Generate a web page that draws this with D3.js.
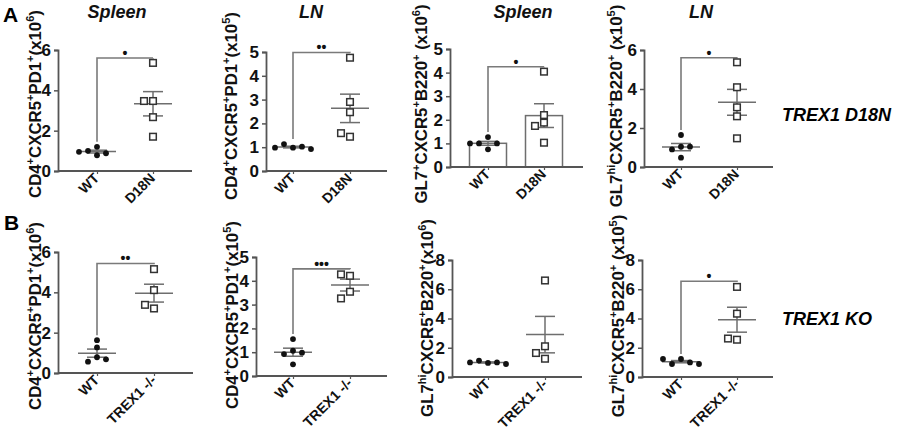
<!DOCTYPE html>
<html>
<head>
<meta charset="utf-8">
<script src="https://cdn.jsdelivr.net/npm/d3@7"></script>
<style>
  body { margin: 0; background: #fff; }
  text { font-family: "Liberation Sans", Arial, sans-serif; }
</style>
</head>
<body>
<div id="chart"></div>
<script>
// categories
const groupsD18N = ['WT', 'D18N']
const groupsKO = ['WT', 'TREX1 -/-']

// row A: TREX1 D18N
const aSpleenTfhWT = [1.2, 0.78, 1.0, 0.88, 0.95]
const aSpleenTfhMut = [5.36, 3.47, 3.47, 2.67, 1.7]
const aLnTfhWT = [0.98, 1.13, 1.02, 0.98, 0.92]
const aLnTfhMut = [4.76, 2.9, 2.47, 1.44, 1.59]
const aSpleenGcWT = [1.27, 1.0, 1.0, 1.0, 0.75]
const aSpleenGcMut = [4.04, 2.2, 1.88, 1.74, 1.03]
const aLnGcWT = [1.64, 1.04, 0.9, 1.04, 0.48]
const aLnGcMut = [5.37, 4.09, 3.06, 2.6, 1.47]

// row B: TREX1 KO
const bSpleenTfhWT = [1.63, 1.27, 0.78, 0.56, 0.68]
const bSpleenTfhKO = [5.15, 4.11, 3.2, 3.38]
const bLnTfhWT = [1.55, 1.06, 0.92, 0.98, 0.49]
const bLnTfhKO = [4.21, 4.27, 3.54, 3.26]
const bSpleenGcWT = [0.96, 1.12, 1.0, 1.0, 0.89]
const bSpleenGcKO = [6.6, 2.1, 1.64, 1.25]
const bLnGcWT = [1.23, 0.89, 1.0, 1.23, 0.89]
const bLnGcKO = [6.16, 4.33, 2.55, 2.63]

// significance: stars and bracket height (y units)
const stars = ['*', '**', '*', '*', '**', '***', '', '*']
const bracketTops = [5.6, 4.98, 4.25, 5.6, 5.43, 4.5, null, 6.55]

// y tick labels per panel
const ticks6 = [0, 2, 4, 6]
const ticks5 = [0, 1, 2, 3, 4, 5]
const ticks8 = [0, 2, 4, 6, 8]

// axis titles as [text, superscript] pieces
const tfhLabel6 = [['CD4', '+'], ['CXCR5', '+'], ['PD1', '+'], ['(x10', '6'], [')', '']]
const tfhLabel5 = [['CD4', '+'], ['CXCR5', '+'], ['PD1', '+'], ['(x10', '5'], [')', '']]
const gcLabelA3 = [['GL7', '+'], ['CXCR5', '+'], ['B220', '+'], [' (x10', '6'], [')', '']]
const gcHiLabel5 = [['GL7', 'hi'], ['CXCR5', '+'], ['B220', '+'], [' (x10', '5'], [')', '']]
const gcHiLabel6 = [['GL7', 'hi'], ['CXCR5', '+'], ['B220', '+'], ['(x10', '6'], [')', '']]

const panels = [
  {cats: groupsD18N, wt: aSpleenTfhWT, mut: aSpleenTfhMut, ticks: ticks6, label: tfhLabel6, title: 'Spleen',
   x0: 58, x1: 192, y0: 171, y1: 50, c0: 97, c1: 153, lx: 35, ly: 104, tx: 117},
  {cats: groupsD18N, wt: aLnTfhWT, mut: aLnTfhMut, ticks: ticks5, label: tfhLabel5, title: 'LN',
   x0: 266, x1: 387, y0: 171, y1: 52, c0: 293, c1: 350, lx: 231, ly: 106, tx: 311},
  {cats: groupsD18N, wt: aSpleenGcWT, mut: aSpleenGcMut, ticks: ticks5, label: gcLabelA3, title: 'Spleen', bar: true,
   x0: 450, x1: 583, y0: 167, y1: 49, c0: 488, c1: 544, lx: 421, ly: 104, tx: 523},
  {cats: groupsD18N, wt: aLnGcWT, mut: aLnGcMut, ticks: ticks6, label: gcHiLabel5, title: 'LN',
   x0: 644, x1: 773, y0: 167, y1: 50, c0: 681, c1: 737, lx: 616, ly: 106, tx: 701},
  {cats: groupsKO, wt: bSpleenTfhWT, mut: bSpleenTfhKO, ticks: ticks6, label: tfhLabel6,
   x0: 58, x1: 193, y0: 373, y1: 252, c0: 97, c1: 154, lx: 35, ly: 316},
  {cats: groupsKO, wt: bLnTfhWT, mut: bLnTfhKO, ticks: ticks5, label: tfhLabel5,
   x0: 256, x1: 387, y0: 376, y1: 257, c0: 293, c1: 350, lx: 232, ly: 315},
  {cats: groupsKO, wt: bSpleenGcWT, mut: bSpleenGcKO, ticks: ticks8, label: gcHiLabel6,
   x0: 452, x1: 582, y0: 377, y1: 260, c0: 488, c1: 545, lx: 427, ly: 318},
  {cats: groupsKO, wt: bLnGcWT, mut: bLnGcKO, ticks: ticks8, label: gcHiLabel5,
   x0: 642, x1: 773, y0: 377, y1: 260, c0: 681, c1: 737, lx: 618, ly: 316},
]

const lineCol = '#6e6e6e'
const axisCol = '#555'

const svg = d3.select('#chart').append('svg')
  .attr('width', 900).attr('height', 428)

// text with superscripts
const addSupText = (sel, parts, size) => {
  const t = sel.append('text').attr('font-size', size).attr('font-weight', 'bold')
  const rise = size * 0.42
  let up = false
  parts.forEach(([base, sup]) => {
    t.append('tspan').attr('dy', up ? rise : 0).text(base)
    up = false
    if (sup) {
      t.append('tspan').attr('dy', -rise).attr('font-size', size * 0.66).text(sup)
      up = true
    }
  })
  return t
}

// spread points sideways so they don't overlap
const dodge = (vals, y, cx) => {
  const placed = []
  const offs = [0, -9, 9, -18, 18, -27, 27]
  vals.forEach((v) => {
    const py = y(v)
    const dx = offs.find((o) => placed.every((p) => Math.hypot(p.x - (cx + o), p.y - py) >= 7))
    placed.push({x: cx + (dx === undefined ? 0 : dx), y: py, v: v})
  })
  return placed
}

panels.forEach((p, i) => {
  const g = svg.append('g')
  const y = d3.scaleLinear().domain([0, d3.max(p.ticks)]).range([p.y0, p.y1])
  const x = d3.scalePoint().domain(p.cats).range([p.c0, p.c1])
  const series = [p.wt, p.mut]

  // bars (mean) for the bar panel
  if (p.bar) {
    g.selectAll('rect.bar').data(series).enter().append('rect')
      .attr('x', (d, k) => x(p.cats[k]) - 18.5)
      .attr('width', 37)
      .attr('y', (d) => y(d3.mean(d)))
      .attr('height', (d) => p.y0 - y(d3.mean(d)))
      .attr('fill', '#fff').attr('stroke', lineCol).attr('stroke-width', 1.5)
  }

  // y axis
  const yAxis = d3.axisLeft(y).tickValues(p.ticks).tickSize(4).tickPadding(3).tickFormat(d3.format('d'))
  const ya = g.append('g').attr('transform', `translate(${p.x0},0)`).call(yAxis)
  ya.select('.domain').attr('stroke', axisCol).attr('stroke-width', 1.8)
  ya.selectAll('.tick line').attr('stroke', axisCol).attr('stroke-width', 1.5)
  ya.selectAll('.tick text')
    .style('font-size', '17px').style('font-weight', 'bold')
    .style('font-family', '"Liberation Sans", Arial, sans-serif')
    .attr('fill', '#111')

  // x axis
  const xAxis = d3.axisBottom(x).tickSize(3).tickSizeOuter(0).tickFormat('')
  const xa = g.append('g').attr('transform', `translate(0,${p.y0})`).call(xAxis)
  xa.select('.domain').attr('d', `M${p.x0},0H${p.x1}`).attr('stroke', axisCol).attr('stroke-width', 1.8)
  xa.selectAll('.tick line').attr('stroke', axisCol).attr('stroke-width', 1.2)
  g.selectAll('text.xl').data(p.cats).enter().append('text')
    .attr('transform', (d) => `translate(${x(d) + 3},${p.y0 + 8}) rotate(-45)`)
    .attr('text-anchor', 'end').attr('font-size', 14).attr('font-weight', 'bold')
    .attr('fill', '#111').text((d) => d)

  // mean / SEM
  series.forEach((vals, k) => {
    const cx = x(p.cats[k])
    const m = d3.mean(vals)
    const sem = d3.deviation(vals) / Math.sqrt(vals.length)
    const e = g.append('g').attr('stroke', lineCol).attr('stroke-width', 1.5)
    if (!p.bar) {
      e.append('line').attr('x1', cx - 19).attr('x2', cx + 19).attr('y1', y(m)).attr('y2', y(m))
    }
    e.append('line').attr('x1', cx).attr('x2', cx).attr('y1', y(m + sem)).attr('y2', y(m - sem))
    e.append('line').attr('x1', cx - 10).attr('x2', cx + 10).attr('y1', y(m + sem)).attr('y2', y(m + sem))
    e.append('line').attr('x1', cx - 10).attr('x2', cx + 10).attr('y1', y(m - sem)).attr('y2', y(m - sem))
  })

  // significance bracket
  if (bracketTops[i] !== null) {
    const yt = y(bracketTops[i])
    const yl = y(d3.max(p.wt)) - 5
    const yr = y(d3.max(p.mut)) - 5
    g.append('path')
      .attr('d', `M${p.c0},${yl}V${yt}H${p.c1}V${yr}`)
      .attr('fill', 'none').attr('stroke', '#7a7a7a').attr('stroke-width', 1.6)
    g.append('text')
      .attr('x', (p.c0 + p.c1) / 2).attr('y', yt)
      .attr('text-anchor', 'middle').attr('font-size', 14).attr('font-weight', 'bold')
      .attr('fill', '#111')
      .text(stars[i].replace(/\*/g, '\u2022'))
  }

  // points
  g.selectAll('circle.wt').data(dodge(p.wt, y, p.c0)).enter().append('circle')
    .attr('cx', (d) => d.x).attr('cy', (d) => d.y).attr('r', 2.9).attr('fill', '#111')
  g.selectAll('rect.mut').data(dodge(p.mut, y, p.c1)).enter().append('rect')
    .attr('x', (d) => d.x - 3.3).attr('y', (d) => d.y - 3.3).attr('width', 6.6).attr('height', 6.6)
    .attr('fill', '#fff').attr('stroke', '#333').attr('stroke-width', 1.5)

  // y label
  addSupText(g, p.label, 16.8)
    .attr('text-anchor', 'middle')
    .attr('transform', `translate(${p.lx + 6},${p.ly}) rotate(-90)`)
    .attr('fill', '#111')

  // title
  if (p.title) {
    g.append('text').attr('x', p.tx).attr('y', 18).attr('text-anchor', 'middle')
      .attr('font-size', 18).attr('font-weight', 'bold').attr('font-style', 'italic')
      .attr('fill', '#111').text(p.title)
  }
})

// panel letters and row labels
svg.append('text').attr('x', 3).attr('y', 22).attr('font-size', 21).attr('font-weight', 'bold').text('A')
svg.append('text').attr('x', 4).attr('y', 230).attr('font-size', 21).attr('font-weight', 'bold').text('B')
svg.append('text').attr('x', 782).attr('y', 121).attr('font-size', 18).attr('font-weight', 'bold')
  .attr('font-style', 'italic').text('TREX1 D18N')
svg.append('text').attr('x', 782).attr('y', 325).attr('font-size', 18).attr('font-weight', 'bold')
  .attr('font-style', 'italic').text('TREX1 KO')
</script>
</body>
</html>
